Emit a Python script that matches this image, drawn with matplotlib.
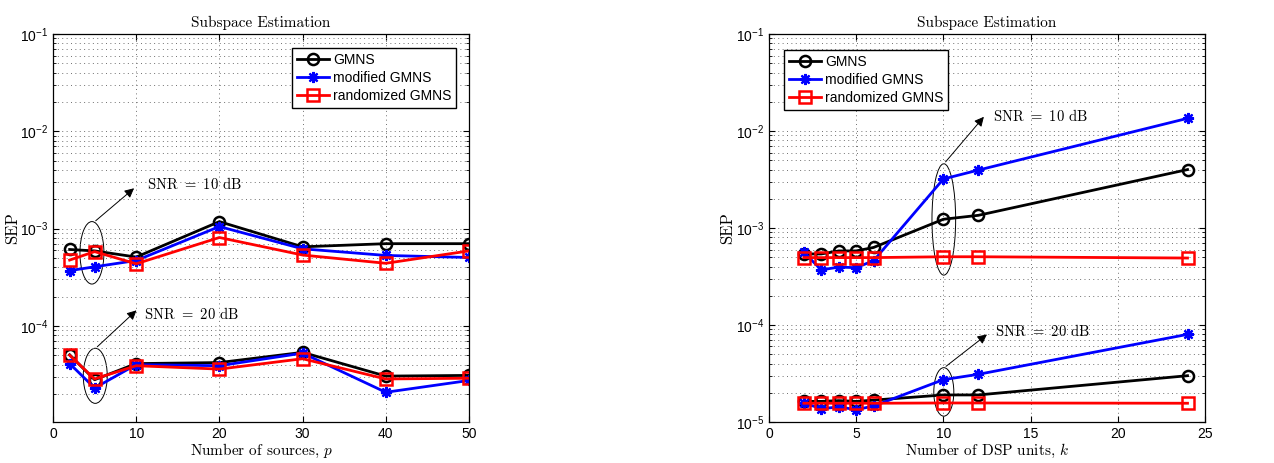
import matplotlib
matplotlib.use('Agg')
import matplotlib.pyplot as plt
from matplotlib.patches import Ellipse
from matplotlib.ticker import LogLocator, NullFormatter

plt.rcParams['font.family'] = ['Liberation Sans', 'DejaVu Sans']
plt.rcParams['mathtext.fontset'] = 'custom'
plt.rcParams['mathtext.rm'] = 'Liberation Sans'
plt.rcParams['mathtext.it'] = 'Liberation Sans:italic'
plt.rcParams['mathtext.sf'] = 'Liberation Sans'

# --- datos: panel izquierdo (numero de fuentes p) ---
p_vals = [2, 5, 10, 20, 30, 40, 50]
gmns_p_10 = [6.1e-4, 5.9e-4, 5.1e-4, 1.18e-3, 6.5e-4, 7.0e-4, 7.0e-4]
mod_p_10 = [3.7e-4, 4.05e-4, 4.7e-4, 1.05e-3, 6.2e-4, 5.3e-4, 5.05e-4]
rand_p_10 = [4.75e-4, 5.8e-4, 4.35e-4, 8.1e-4, 5.35e-4, 4.4e-4, 5.9e-4]
gmns_p_20 = [5.05e-5, 2.8e-5, 4.1e-5, 4.2e-5, 5.35e-5, 3.05e-5, 3.1e-5]
mod_p_20 = [4.1e-5, 2.3e-5, 4.0e-5, 3.9e-5, 5.25e-5, 2.08e-5, 2.75e-5]
rand_p_20 = [5.0e-5, 2.85e-5, 3.9e-5, 3.6e-5, 4.6e-5, 2.85e-5, 2.9e-5]

# --- datos: panel derecho (numero de unidades DSP k) ---
k_vals = [2, 3, 4, 5, 6, 10, 12, 24]
gmns_k_10 = [5.4e-4, 5.4e-4, 5.8e-4, 5.8e-4, 6.3e-4, 1.23e-3, 1.35e-3, 4.0e-3]
mod_k_10 = [5.6e-4, 3.7e-4, 3.95e-4, 3.9e-4, 4.6e-4, 3.2e-3, 3.95e-3, 1.35e-2]
rand_k_10 = [4.95e-4, 4.95e-4, 4.95e-4, 4.95e-4, 4.95e-4, 5.05e-4, 5.05e-4, 4.9e-4]
gmns_k_20 = [1.63e-5, 1.63e-5, 1.66e-5, 1.63e-5, 1.68e-5, 1.9e-5, 1.9e-5, 3.0e-5]
mod_k_20 = [1.57e-5, 1.37e-5, 1.43e-5, 1.34e-5, 1.46e-5, 2.73e-5, 3.1e-5, 8.0e-5]
rand_k_20 = [1.56e-5, 1.56e-5, 1.56e-5, 1.56e-5, 1.56e-5, 1.57e-5, 1.57e-5, 1.56e-5]

labels = ['GMNS', 'modified GMNS', 'randomized GMNS']

fig = plt.figure(figsize=(12.74, 4.63), dpi=100)
ax1 = fig.add_axes([0.0416, 0.0886, 0.3265, 0.838])
ax2 = fig.add_axes([0.6036, 0.0886, 0.3422, 0.838])

estilo_cm = dict(fontfamily='cmr10', math_fontfamily='cm', fontsize=11)
rejilla = dict(linestyle=(0, (1, 3.5)), color='#707070', linewidth=0.7)


def dibujar(ax, x, g10, m10, r10, g20, m20, r20):
    kw = dict(linewidth=2, markersize=8)
    ax.plot(x, g10, color='black', marker='o', markerfacecolor='none',
            markeredgewidth=1.8, label=labels[0], **kw)
    ax.plot(x, m10, color='blue', marker=(8, 2, 0), markeredgewidth=1.6,
            label=labels[1], **kw)
    ax.plot(x, r10, color='red', marker='s', markerfacecolor='none',
            markeredgewidth=1.8, label=labels[2], **kw)
    ax.plot(x, g20, color='black', marker='o', markerfacecolor='none',
            markeredgewidth=1.8, **kw)
    ax.plot(x, m20, color='blue', marker=(8, 2, 0), markeredgewidth=1.6, **kw)
    ax.plot(x, r20, color='red', marker='s', markerfacecolor='none',
            markeredgewidth=1.8, **kw)
    ax.set_yscale('log')
    ax.yaxis.set_major_locator(LogLocator(base=10, numticks=10))
    ax.yaxis.set_minor_locator(LogLocator(base=10, subs=range(2, 10), numticks=20))
    ax.yaxis.set_minor_formatter(NullFormatter())
    ax.grid(True, which='major', **rejilla)
    ax.grid(True, which='minor', axis='y', **rejilla)
    ax.tick_params(direction='in', top=True, right=True, labelsize=10, width=0.8,
                   length=4)
    ax.tick_params(which='minor', direction='in', right=True, length=2)
    ax.set_ylabel('SEP', fontfamily='cmr10', fontsize=12)
    ax.set_title('Subspace Estimation', pad=5, **estilo_cm)
    for s in ax.spines.values():
        s.set_linewidth(0.9)


def marca(ax, centro, ancho, alto, ini, fin, texto, pos):
    ax.add_patch(Ellipse(centro, ancho, alto, transform=ax.transAxes,
                         fill=False, edgecolor='black', linewidth=0.7))
    ax.annotate('', xy=fin, xytext=ini, xycoords='axes fraction',
                textcoords='axes fraction',
                arrowprops=dict(arrowstyle='-|>', color='black', lw=0.7,
                                mutation_scale=14))
    ax.text(pos[0], pos[1], texto, transform=ax.transAxes, ha='left',
            va='center', fontfamily='cmr10', math_fontfamily='cm', fontsize=10.5)


leyenda = dict(fontsize=10, handlelength=2.3, borderpad=0.35,
               labelspacing=0.3, handletextpad=0.3, fancybox=False,
               edgecolor='black', framealpha=1)

# panel izquierdo
dibujar(ax1, p_vals, gmns_p_10, mod_p_10, rand_p_10, gmns_p_20, mod_p_20, rand_p_20)
ax1.set_xlim(0, 50)
ax1.set_ylim(1.03e-5, 1e-1)
ax1.set_xticks([0, 10, 20, 30, 40, 50])
ax1.set_xlabel('Number of sources, $p$', labelpad=1, **estilo_cm)
ax1.yaxis.set_label_coords(-0.079, 0.5)
ax1.legend(loc='upper right', bbox_to_anchor=(0.986, 0.982), **leyenda)
marca(ax1, (0.0936, 0.436), 0.0576, 0.161, (0.0976, 0.514), (0.2, 0.607),
      'SNR $=$ 10 dB', (0.2256, 0.614))
marca(ax1, (0.1016, 0.119), 0.0576, 0.142, (0.1016, 0.189), (0.2056, 0.2926),
      'SNR $=$ 20 dB', (0.219, 0.278))

# panel derecho
dibujar(ax2, k_vals, gmns_k_10, mod_k_10, rand_k_10, gmns_k_20, mod_k_20, rand_k_20)
ax2.set_xlim(0, 25)
ax2.set_ylim(1e-5, 1e-1)
ax2.set_xticks([0, 5, 10, 15, 20, 25])
ax2.set_xlabel('Number of DSP units, $k$', labelpad=1, **estilo_cm)
ax2.yaxis.set_label_coords(-0.078, 0.5)
ax2.legend(loc='upper left', bbox_to_anchor=(0.018, 0.977), **leyenda)
marca(ax2, (0.401, 0.522), 0.0543, 0.287, (0.401, 0.665), (0.497, 0.792),
      'SNR $=$ 10 dB', (0.514, 0.789))
marca(ax2, (0.401, 0.0775), 0.0459, 0.125, (0.401, 0.139), (0.505, 0.23),
      'SNR $=$ 20 dB', (0.518, 0.234))

plt.savefig('out.png', dpi=100)
plt.close()
